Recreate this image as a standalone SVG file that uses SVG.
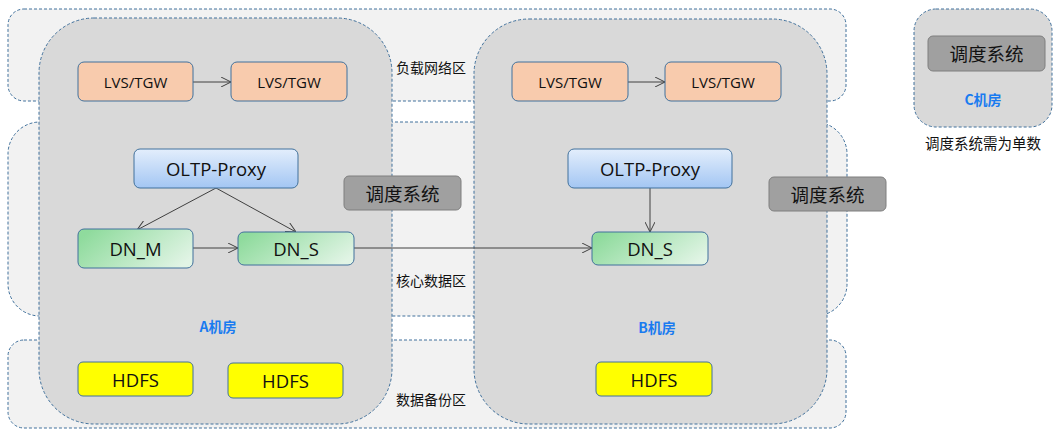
<svg xmlns="http://www.w3.org/2000/svg" width="1053" height="430" viewBox="0 0 1053 430">
<style>
.band{fill:#f2f2f2;stroke:#41719c;stroke-width:1;stroke-dasharray:3 2}
.room{fill:#d9d9d9;stroke:#41719c;stroke-width:1;stroke-dasharray:3 2}
.lvs{fill:#f8cbad;stroke:#41719c;stroke-width:1}
.proxy{fill:url(#gBlue);stroke:#41719c;stroke-width:1}
.dn{fill:url(#gGreen);stroke:#41719c;stroke-width:1}
.hdfs{fill:#ffff00;stroke:#41719c;stroke-width:1}
.sched{fill:#a0a0a0;stroke:#7f7f7f;stroke-width:1}
.t{font-family:"Open Sans","Noto Sans CJK SC",sans-serif;fill:#111;text-anchor:middle;dominant-baseline:central}
.s14{font-size:15px}
.s18{font-size:18.5px}
.cjk{font-family:"Noto Sans CJK SC",sans-serif;fill:#111;dominant-baseline:central}
.room-label{font-family:"Noto Sans CJK SC",sans-serif;fill:#1a7bf0;font-weight:bold;font-size:14px;text-anchor:middle;dominant-baseline:central}
.edge{stroke:#404040;stroke-width:1;fill:none;marker-end:url(#arr)}
</style>
<defs>
<linearGradient id="gBlue" x1="0" y1="0" x2="0" y2="1">
<stop offset="0" stop-color="#e3eefc"/>
<stop offset="1" stop-color="#a3c6f3"/>
</linearGradient>
<linearGradient id="gGreen" x1="0" y1="0.3" x2="1" y2="0.7">
<stop offset="0" stop-color="#8fdb9d"/>
<stop offset="1" stop-color="#e1f4e5"/>
</linearGradient>
<marker id="arr" viewBox="0 0 10 10" refX="10" refY="5" markerWidth="10" markerHeight="10" markerUnits="userSpaceOnUse" orient="auto">
<path d="M0,0 L10,5 L0,10" fill="none" stroke="#404040" stroke-width="1"/>
</marker>
</defs>

<g id="zones">
<rect id="zone-load" class="band" x="8" y="9" width="838" height="92" rx="16"/>
<rect id="zone-core" class="band" x="8" y="122" width="839" height="194" rx="32"/>
<rect id="zone-backup" class="band" x="8" y="340" width="838" height="88" rx="16"/>
<text class="cjk" x="396" y="67" font-size="14">负载网络区</text>
<text class="cjk" x="396" y="280" font-size="14">核心数据区</text>
<text class="cjk" x="396" y="399" font-size="14">数据备份区</text>
</g>

<g id="roomA">
<rect class="room" x="39" y="18" width="353" height="406" rx="55"/>
<text class="room-label" x="218" y="326">A机房</text>
</g>
<g id="roomB">
<rect class="room" x="474" y="19" width="353" height="405" rx="55"/>
<text class="room-label" x="657" y="327">B机房</text>
</g>
<g id="roomC">
<rect class="room" x="914" y="9" width="138" height="118" rx="22"/>
<text class="room-label" x="983" y="99">C机房</text>
</g>
<text class="cjk" x="983" y="142" font-size="14.5" text-anchor="middle">调度系统需为单数</text>

<g id="connectors">
<line class="edge" x1="193" y1="82" x2="231" y2="82"/>
<line class="edge" x1="628" y1="82" x2="665" y2="82"/>
<line class="edge" x1="216" y1="188" x2="137" y2="230"/>
<line class="edge" x1="216" y1="188" x2="296" y2="232"/>
<line class="edge" x1="193" y1="248" x2="238" y2="248"/>
<line class="edge" x1="354" y1="248" x2="592" y2="248"/>
<line class="edge" x1="650" y1="188" x2="650" y2="232"/>
</g>

<g id="lvsA1"><rect class="lvs" x="78" y="62" width="115" height="39" rx="6"/><text class="t s14" x="135.5" y="81.5">LVS/TGW</text></g>
<g id="lvsA2"><rect class="lvs" x="231" y="62" width="116" height="39" rx="6"/><text class="t s14" x="289" y="81.5">LVS/TGW</text></g>
<g id="lvsB1"><rect class="lvs" x="512" y="62" width="116" height="39" rx="6"/><text class="t s14" x="570" y="81.5">LVS/TGW</text></g>
<g id="lvsB2"><rect class="lvs" x="665" y="62" width="116" height="39" rx="6"/><text class="t s14" x="723" y="81.5">LVS/TGW</text></g>

<g id="proxyA"><rect class="proxy" x="134" y="149" width="164" height="39" rx="6"/><text class="t s18" x="216" y="168">OLTP-Proxy</text></g>
<g id="proxyB"><rect class="proxy" x="568" y="149" width="164" height="39" rx="6"/><text class="t s18" x="650" y="168">OLTP-Proxy</text></g>

<g id="dnmA"><rect class="dn" x="78" y="229" width="115" height="39" rx="6"/><text class="t s18" x="135.5" y="248">DN_M</text></g>
<g id="dnsA"><rect class="dn" x="238" y="232" width="116" height="33" rx="6"/><text class="t s18" x="296" y="248">DN_S</text></g>
<g id="dnsB"><rect class="dn" x="592" y="232" width="116" height="33" rx="6"/><text class="t s18" x="650" y="248">DN_S</text></g>

<g id="schedA"><rect class="sched" x="344" y="176" width="117" height="34" rx="5"/><text class="t" x="402.5" y="193" font-size="18.5">调度系统</text></g>
<g id="schedB"><rect class="sched" x="769" y="177" width="117" height="34" rx="5"/><text class="t" x="827.5" y="194" font-size="18.5">调度系统</text></g>
<g id="schedC"><rect class="sched" x="928" y="36" width="117" height="35" rx="5"/><text class="t" x="986.5" y="53.5" font-size="18.5">调度系统</text></g>

<g id="hdfsA1"><rect class="hdfs" x="78" y="362" width="115" height="34" rx="5"/><text class="t s18" x="135.5" y="379">HDFS</text></g>
<g id="hdfsA2"><rect class="hdfs" x="228" y="363" width="115" height="35" rx="5"/><text class="t s18" x="285.5" y="380.5">HDFS</text></g>
<g id="hdfsB"><rect class="hdfs" x="596" y="362" width="116" height="34" rx="5"/><text class="t s18" x="654" y="379">HDFS</text></g>
</svg>
